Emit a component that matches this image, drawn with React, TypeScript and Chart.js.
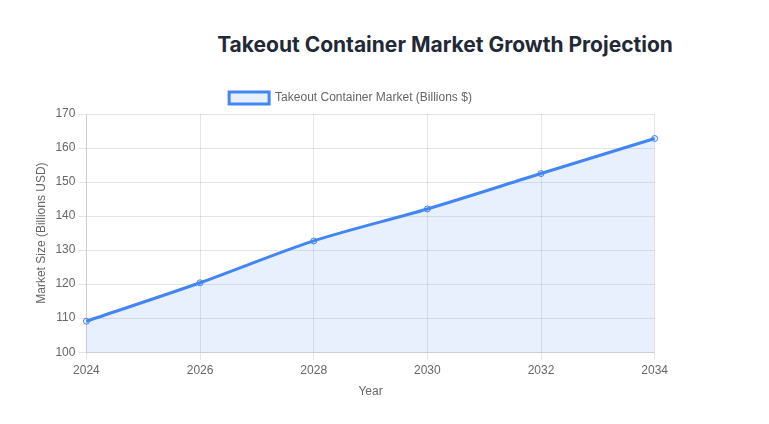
import { useEffect, useRef } from 'react'
import Chart from 'chart.js/auto'

const years = ['2024', '2026', '2028', '2030', '2032', '2034']
const marketSize = [109.1, 120.4, 132.7, 142.1, 152.5, 162.8]
const yTicks = [100, 110, 120, 130, 140, 150, 160, 170]

export default function App() {
  const chartRef = useRef<HTMLCanvasElement>(null)
  const chartInstance = useRef<Chart | null>(null)

  useEffect(() => {
    if (!chartRef.current) return
    const ctx = chartRef.current.getContext('2d')
    if (!ctx) return
    if (chartInstance.current) chartInstance.current.destroy()

    chartInstance.current = new Chart(ctx, {
      type: 'line',
      data: {
        labels: years,
        datasets: [{
          label: 'Takeout Container Market (Billions $)',
          data: marketSize,
          borderColor: 'rgb(66, 133, 244)',
          backgroundColor: 'rgba(66, 133, 244, 0.12)',
          pointBackgroundColor: 'rgba(66, 133, 244, 0.12)',
          pointBorderColor: 'rgb(66, 133, 244)',
          borderWidth: 3,
          pointRadius: 3,
          pointBorderWidth: 1,
          fill: true,
          tension: 0.3
        }]
      },
      options: {
        responsive: true,
        maintainAspectRatio: false,
        animation: false,
        scales: {
          x: {
            title: { display: true, text: 'Year', color: '#666' },
            ticks: { color: '#666' }
          },
          y: {
            min: yTicks[0],
            max: yTicks[yTicks.length - 1],
            ticks: { stepSize: yTicks[1] - yTicks[0], color: '#666' },
            title: { display: true, text: 'Market Size (Billions USD)', color: '#666' }
          }
        },
        plugins: {
          legend: {
            labels: { color: '#666' }
          }
        }
      }
    })

    return () => {
      if (chartInstance.current) {
        chartInstance.current.destroy()
        chartInstance.current = null
      }
    }
  }, [])

  return (
    <div style={{ position: 'relative', width: 753, height: 408 }}>
      <div
        style={{
          position: 'absolute',
          left: 437,
          top: 22,
          transform: 'translateX(-50%)',
          whiteSpace: 'nowrap',
          fontFamily: 'Inter, "Open Sans", sans-serif',
          fontWeight: 700,
          fontSize: 21,
          lineHeight: '30px',
          color: '#1f2937'
        }}
      >
        Takeout Container Market Growth Projection
      </div>
      <div style={{ position: 'absolute', left: 22, top: 74, width: 641, height: 321 }}>
        <canvas ref={chartRef} />
      </div>
    </div>
  )
}
